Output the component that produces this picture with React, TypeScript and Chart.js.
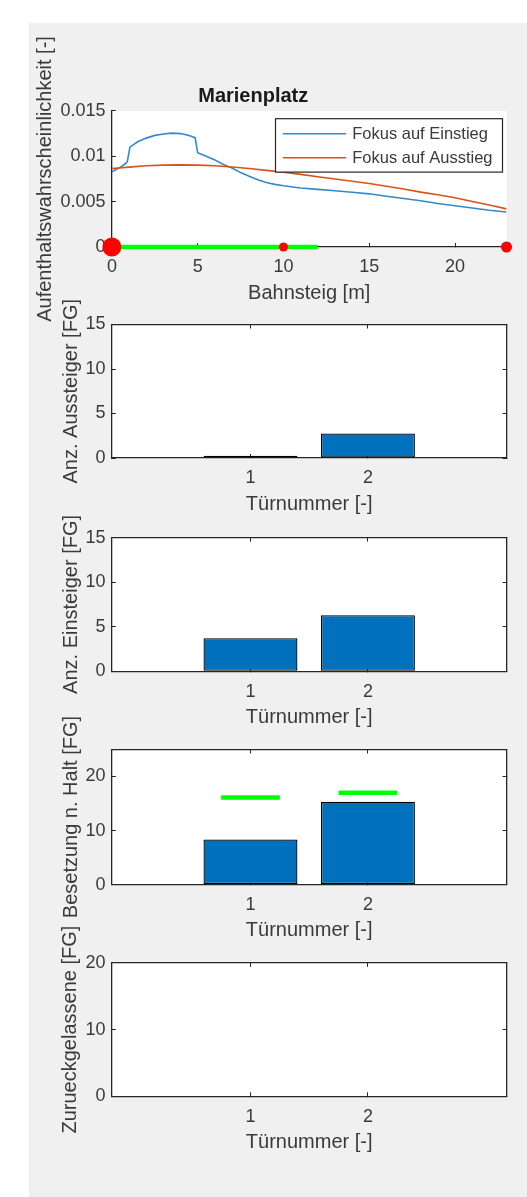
import React, { useEffect, useRef } from "react";
import { Chart, registerables } from "chart.js";

Chart.register(...registerables);

// ---------------- data ----------------
const stationTitle = "Marienplatz";
const platformLabel = "Bahnsteig [m]";
const probabilityLabel = "Aufenthaltswahrscheinlichkeit [-]";
const seriesNames = ["Fokus auf Einstieg", "Fokus auf Ausstieg"];

const boardingX = [0, 0.5, 0.8, 0.9, 1.05, 1.5, 2, 2.5, 3, 3.5, 4, 4.5, 4.85, 5, 5.5, 6, 6.5, 7, 7.5, 8, 8.5, 9, 9.5, 10, 11, 12, 13, 14, 15, 16, 17, 18, 19, 20, 21, 22, 23];
const boardingFocus = [0.0083, 0.0088, 0.0092, 0.0094, 0.011, 0.0116, 0.012, 0.0123, 0.01245, 0.01255, 0.0125, 0.0123, 0.01205, 0.0104, 0.01, 0.0096, 0.0091, 0.0087, 0.0082, 0.0078, 0.0074, 0.0071, 0.0069, 0.00675, 0.0065, 0.00635, 0.0062, 0.00603, 0.00586, 0.0056, 0.00535, 0.0051, 0.0048, 0.00455, 0.0043, 0.00405, 0.00385];

const alightingX = [0, 1, 2, 3, 4, 5, 6, 7, 8, 9, 10, 11, 12, 13, 14, 15, 16, 17, 18, 19, 20, 21, 22, 23];
const alightingFocus = [0.00865, 0.0088, 0.00895, 0.00902, 0.00905, 0.00902, 0.00895, 0.00882, 0.00865, 0.00845, 0.00825, 0.008, 0.00775, 0.0075, 0.00725, 0.007, 0.0067, 0.0064, 0.00605, 0.00575, 0.00542, 0.00502, 0.00462, 0.0042];

const trainSpan = [0, 12];
const platformMarkers = [0, 10, 23];

const platformRange = [0, 23];
const platformTicks = [0, 5, 10, 15, 20];
const platformTickLabels = ["0", "5", "10", "15", "20"];
const probabilityRange = [0, 0.015];
const probabilityTicks = [0, 0.005, 0.01, 0.015];
const probabilityTickLabels = ["0", "0.005", "0.01", "0.015"];

const doorLabel = "Türnummer [-]";
const doorRange = [-0.18, 3.18];
const doors = [1, 2];
const doorTickLabels = ["1", "2"];

const alightingCount = [0.25, 2.75];
const boardingCount = [3.7, 6.3];
const occupancyAfterStop = [8.35, 15.35];
const capacityLimit = [16.1, 17.0];
const leftBehind = [0, 0];

const countRange = [0, 15];
const countTicks = [0, 5, 10, 15];
const countTickLabels = ["0", "5", "10", "15"];
const occupancyRange = [0, 25];
const occupancyTicks = [0, 10, 20];
const occupancyTickLabels = ["0", "10", "20"];
const leftBehindRange = [0, 20];
const leftBehindTicks = [0, 10, 20];
const leftBehindTickLabels = ["0", "10", "20"];

const yLabels = [
  probabilityLabel,
  "Anz. Aussteiger [FG]",
  "Anz. Einsteiger [FG]",
  "Besetzung n. Halt [FG]",
  "Zurueckgelassene [FG]",
];

// ---------------- styling / layout ----------------
const FONT = "'Liberation Sans', Arial, Helvetica, sans-serif";
const TEXT = "#3a3a3a";
const AXIS = "#262626";
const BLUE = "#0072BD";
const LINE_BLUE = "#3389cf";
const ORANGE = "#D95319";
const GREEN = "#00FF00";
const RED = "#FF0000";
const TICK_PX = 18;
const LABEL_PX = 20;
const LEGEND_PX = 16.5;
const PAGE_W = 527;
const PAGE_H = 1197;
const AREA_L = 111.9;
const AREA_R = 506.5;

type Box = { cTop: number; cBot: number; aTop: number; aBot: number; yTitleX: number };
const boxes: Box[] = [
  { cTop: 23, cBot: 330, aTop: 110.9, aBot: 247, yTitleX: 45.4 },
  { cTop: 285, cBot: 525, aTop: 324.5, aBot: 458, yTitleX: 71.3 },
  { cTop: 495, cBot: 740, aTop: 537.6, aBot: 671.3, yTitleX: 71.3 },
  { cTop: 705, cBot: 955, aTop: 749.5, aBot: 884.6, yTitleX: 71 },
  { cTop: 915, cBot: 1170, aTop: 962.9, aBot: 1096.3, yTitleX: 70 },
];

Chart.defaults.font.family = FONT;

const tickGrid = {
  display: true,
  offset: false,
  drawOnChartArea: false,
  drawTicks: true,
  tickLength: -4,
  tickColor: AXIS,
  tickWidth: 1,
  color: AXIS,
  lineWidth: 1,
};
const axisBorder = { display: true, color: AXIS, width: 1.3 };

function setTicks(values: number[]) {
  return (s: any) => {
    s.ticks = values.map((value) => ({ value }));
  };
}

function bottomAxis(b: Box, range: number[], ticks: number[], labels: string[], title: string) {
  const h = b.cBot - b.aBot;
  const titleCenter = b.aBot + 46;
  const pb = b.cBot - titleCenter - (LABEL_PX * 1.2) / 2;
  return {
    type: "linear",
    position: "bottom",
    min: range[0],
    max: range[1],
    offset: false,
    grid: tickGrid,
    border: axisBorder,
    ticks: {
      autoSkip: false,
      maxRotation: 0,
      minRotation: 0,
      padding: 13.7,
      color: TEXT,
      font: { size: TICK_PX, family: FONT },
      callback: (_v: any, i: number) => labels[i] ?? "",
    },
    title: {
      display: true,
      text: title,
      color: TEXT,
      font: { size: LABEL_PX, family: FONT },
      padding: { top: 0, bottom: pb },
    },
    afterBuildTicks: setTicks(ticks),
    afterFit: (s: any) => {
      s.height = h;
    },
  };
}

function leftAxis(range: number[], ticks: number[], labels: string[]) {
  return {
    type: "linear",
    position: "left",
    min: range[0],
    max: range[1],
    grid: tickGrid,
    border: axisBorder,
    ticks: {
      autoSkip: false,
      padding: 10.4,
      color: TEXT,
      font: { size: TICK_PX, family: FONT },
      callback: (_v: any, i: number) => labels[i] ?? "",
    },
    afterBuildTicks: setTicks(ticks),
    afterFit: (s: any) => {
      s.width = AREA_L;
    },
  };
}

function topAxis(range: number[], ticks: number[]) {
  return {
    axis: "x",
    type: "linear",
    position: "top",
    min: range[0],
    max: range[1],
    offset: false,
    grid: tickGrid,
    border: axisBorder,
    ticks: { display: false },
    afterBuildTicks: setTicks(ticks),
    afterFit: (s: any) => {
      s.height = 0;
    },
  };
}

function rightAxis(range: number[], ticks: number[]) {
  return {
    axis: "y",
    type: "linear",
    position: "right",
    min: range[0],
    max: range[1],
    grid: tickGrid,
    border: axisBorder,
    ticks: { display: false },
    afterBuildTicks: setTicks(ticks),
    afterFit: (s: any) => {
      s.width = 0;
    },
  };
}

const extrasPlugin = {
  id: "extras",
  beforeDraw(chart: any) {
    const { ctx, chartArea: a } = chart;
    ctx.save();
    ctx.fillStyle = "#ffffff";
    ctx.fillRect(a.left, a.top, a.right - a.left, a.bottom - a.top);
    ctx.restore();
  },
  afterDatasetsDraw(chart: any, _args: any, opts: any) {
    const names: string[] = opts.legendLabels || [];
    if (!names.length) return;
    const { ctx, chartArea: a } = chart;
    const w = 227;
    const h = 53.4;
    const r = a.right - 4;
    const t = a.top + 7.8;
    const l = r - w;
    ctx.save();
    ctx.fillStyle = "#ffffff";
    ctx.fillRect(l, t, w, h);
    ctx.strokeStyle = AXIS;
    ctx.lineWidth = 1.2;
    ctx.strokeRect(l, t, w, h);
    ctx.font = `${LEGEND_PX}px ${FONT}`;
    ctx.textAlign = "left";
    ctx.textBaseline = "middle";
    names.forEach((name, i) => {
      const ds = chart.data.datasets.find((d: any) => d.label === name);
      if (!ds) return;
      const y = t + 15.1 + i * 24;
      ctx.strokeStyle = ds.borderColor;
      ctx.lineWidth = 1.6;
      ctx.beginPath();
      ctx.moveTo(l + 7.4, y);
      ctx.lineTo(l + 70.6, y);
      ctx.stroke();
      ctx.fillStyle = TEXT;
      ctx.fillText(name, l + 76.7, y + 0.5);
    });
    ctx.restore();
  },
  afterDraw(chart: any, _args: any, opts: any) {
    if (!opts.yTitle) return;
    const { ctx, chartArea: a } = chart;
    ctx.save();
    ctx.translate(opts.yTitleX, (a.top + a.bottom) / 2);
    ctx.rotate(-Math.PI / 2);
    ctx.font = `${LABEL_PX}px ${FONT}`;
    ctx.fillStyle = TEXT;
    ctx.textAlign = "center";
    ctx.textBaseline = "middle";
    ctx.fillText(opts.yTitle, 0, 0);
    ctx.restore();
  },
};

function baseOptions(b: Box, yTitle: string, layoutTop: number) {
  return {
    responsive: false,
    maintainAspectRatio: false,
    animation: false,
    events: [],
    layout: { padding: { left: 0, right: PAGE_W - AREA_R, top: layoutTop, bottom: 0 } },
    plugins: {
      legend: { display: false },
      tooltip: { enabled: false },
      extras: { yTitle, yTitleX: b.yTitleX },
    },
  };
}

function platformConfig(): any {
  const b = boxes[0];
  const opts: any = baseOptions(b, yLabels[0], 0);
  opts.plugins.extras.legendLabels = seriesNames;
  const titleCenterRel = 96.5 - b.cTop;
  const padTop = titleCenterRel - (LABEL_PX * 1.2) / 2;
  const padBottom = b.aTop - b.cTop - padTop - LABEL_PX * 1.2;
  opts.plugins.title = {
    display: true,
    text: stationTitle,
    color: "#1a1a1a",
    font: { size: LABEL_PX, weight: "bold", family: FONT },
    padding: { top: padTop, bottom: padBottom },
  };
  opts.scales = {
    x: bottomAxis(b, platformRange, platformTicks, platformTickLabels, platformLabel),
    y: leftAxis(probabilityRange, probabilityTicks, probabilityTickLabels),
  };
  return {
    type: "line",
    data: {
      datasets: [
        {
          label: seriesNames[0],
          data: boardingX.map((x, i) => ({ x, y: boardingFocus[i] })),
          borderColor: LINE_BLUE,
          borderWidth: 1.6,
          pointRadius: 0,
          order: 3,
        },
        {
          label: seriesNames[1],
          data: alightingX.map((x, i) => ({ x, y: alightingFocus[i] })),
          borderColor: ORANGE,
          borderWidth: 1.6,
          pointRadius: 0,
          order: 2,
        },
        {
          label: "Zug",
          data: trainSpan.map((x) => ({ x, y: 0 })),
          borderColor: GREEN,
          borderWidth: 4.5,
          pointRadius: 0,
          clip: false,
          order: 1,
        },
        {
          label: "Türen",
          data: platformMarkers.map((x) => ({ x, y: 0 })),
          showLine: false,
          pointRadius: [9.5, 4.5, 5.5],
          pointBackgroundColor: RED,
          pointBorderColor: RED,
          pointBorderWidth: 0,
          clip: false,
          order: 0,
        },
      ],
    },
    options: opts,
    plugins: [extrasPlugin],
  };
}

function doorConfig(
  idx: number,
  values: number[],
  range: number[],
  ticks: number[],
  labels: string[],
  limits?: number[]
): any {
  const b = boxes[idx];
  const opts: any = baseOptions(b, yLabels[idx], b.aTop - b.cTop);
  opts.scales = {
    x: bottomAxis(b, doorRange, doors, doorTickLabels, doorLabel),
    x2: topAxis(doorRange, doors),
    y: leftAxis(range, ticks, labels),
    y2: rightAxis(range, ticks),
  };
  const datasets: any[] = [
    {
      type: "bar",
      label: yLabels[idx],
      data: doors.map((d, i) => ({ x: d, y: values[i] })),
      backgroundColor: BLUE,
      borderColor: "#000000",
      borderWidth: 1.3,
      borderSkipped: false,
      categoryPercentage: 1,
      barPercentage: 0.8,
      order: 2,
    },
  ];
  if (limits) {
    doors.forEach((d, i) => {
      datasets.push({
        type: "line",
        label: "Kapazität " + (i + 1),
        data: [
          { x: d - 0.25, y: limits[i] },
          { x: d + 0.25, y: limits[i] },
        ],
        borderColor: GREEN,
        borderWidth: 4.5,
        pointRadius: 0,
        order: 1,
      });
    });
  }
  return { type: "bar", data: { datasets }, options: opts, plugins: [extrasPlugin] };
}

export default function App() {
  const canvases = useRef<(HTMLCanvasElement | null)[]>([]);

  useEffect(() => {
    const configs = [
      platformConfig(),
      doorConfig(1, alightingCount, countRange, countTicks, countTickLabels),
      doorConfig(2, boardingCount, countRange, countTicks, countTickLabels),
      doorConfig(3, occupancyAfterStop, occupancyRange, occupancyTicks, occupancyTickLabels, capacityLimit),
      doorConfig(4, leftBehind, leftBehindRange, leftBehindTicks, leftBehindTickLabels),
    ];
    const charts = configs.map((cfg, i) => new Chart(canvases.current[i] as HTMLCanvasElement, cfg));
    return () => charts.forEach((c) => c.destroy());
  }, []);

  return (
    <div
      style={{
        position: "absolute",
        left: 0,
        top: 0,
        width: PAGE_W,
        height: PAGE_H,
        background: "#ffffff",
        overflow: "hidden",
      }}
    >
      <div
        style={{
          position: "absolute",
          left: 29,
          top: 23,
          width: PAGE_W - 29,
          height: PAGE_H - 23,
          background: "#F0F0F0",
        }}
      />
      {boxes.map((b, i) => (
        <canvas
          key={i}
          ref={(el) => {
            canvases.current[i] = el;
          }}
          width={PAGE_W}
          height={b.cBot - b.cTop}
          style={{
            position: "absolute",
            left: 0,
            top: b.cTop,
            width: PAGE_W,
            height: b.cBot - b.cTop,
          }}
        />
      ))}
    </div>
  );
}
